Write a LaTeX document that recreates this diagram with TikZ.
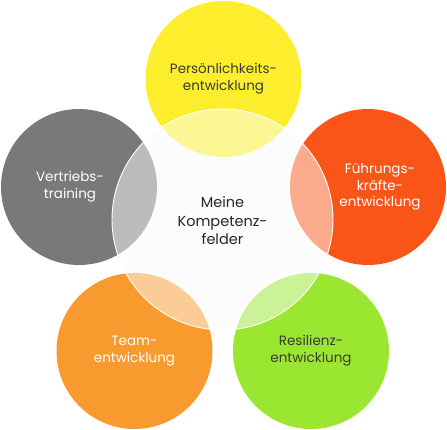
\documentclass[tikz,border=0pt]{standalone}
\usepackage{fontspec}
\setmainfont{Poppins}
\usepackage{xcolor}
\usepackage{tikz}

\definecolor{perscol}{HTML}{FCEE2C}
\definecolor{fuehrcol}{HTML}{F95519}
\definecolor{resilcol}{HTML}{9AE630}
\definecolor{teamcol}{HTML}{F99A2E}
\definecolor{vertrcol}{HTML}{787A7A}
\definecolor{darktext}{HTML}{3A3A3A}

\begin{document}
\begin{tikzpicture}[x=1pt,y=-1pt,
		bubble/.style={circle,minimum size=156pt,inner sep=0pt,align=center,
			font=\fontsize{13.5}{16.7}\selectfont},
		hub/.style={circle,minimum size=221pt,inner sep=0pt}]
			\useasboundingbox (0,0) rectangle (447,430);
			% Hintergrund der Mitte
			\fill[black!2] (222.5,219.5) circle (110.5);
			\node[bubble,fill=perscol,text=darktext](pers) at (223.5,79)
				{Persönlichkeits-\\entwicklung};
			\node[bubble,fill=fuehrcol,text=white](fuehr) at (368,187)
				{\hspace*{24pt}Führungs-\\\hspace*{24pt}kräfte-\\\hspace*{24pt}entwicklung};
			\node[bubble,fill=resilcol,text=darktext](resil) at (311,351)
				{Resilienz-\\entwicklung};
			\node[bubble,fill=teamcol,text=white](team) at (134.5,351)
				{Team-\\entwicklung};
			\node[bubble,fill=vertrcol,text=white](vertr) at (79,187)
				{Vertriebs-\hspace*{18pt}\\training\hspace*{18pt}};
			\node[hub,fill=white,fill opacity=0.5,draw=white,line width=0.9pt](hub) at (222.5,219.5) {};
			\node[align=center,text=black!85,font=\fontsize{14.5}{18.5}\selectfont](titel) at (222.5,221)
				{Meine\\Kompetenz-\\felder};
		\end{tikzpicture}
\end{document}
